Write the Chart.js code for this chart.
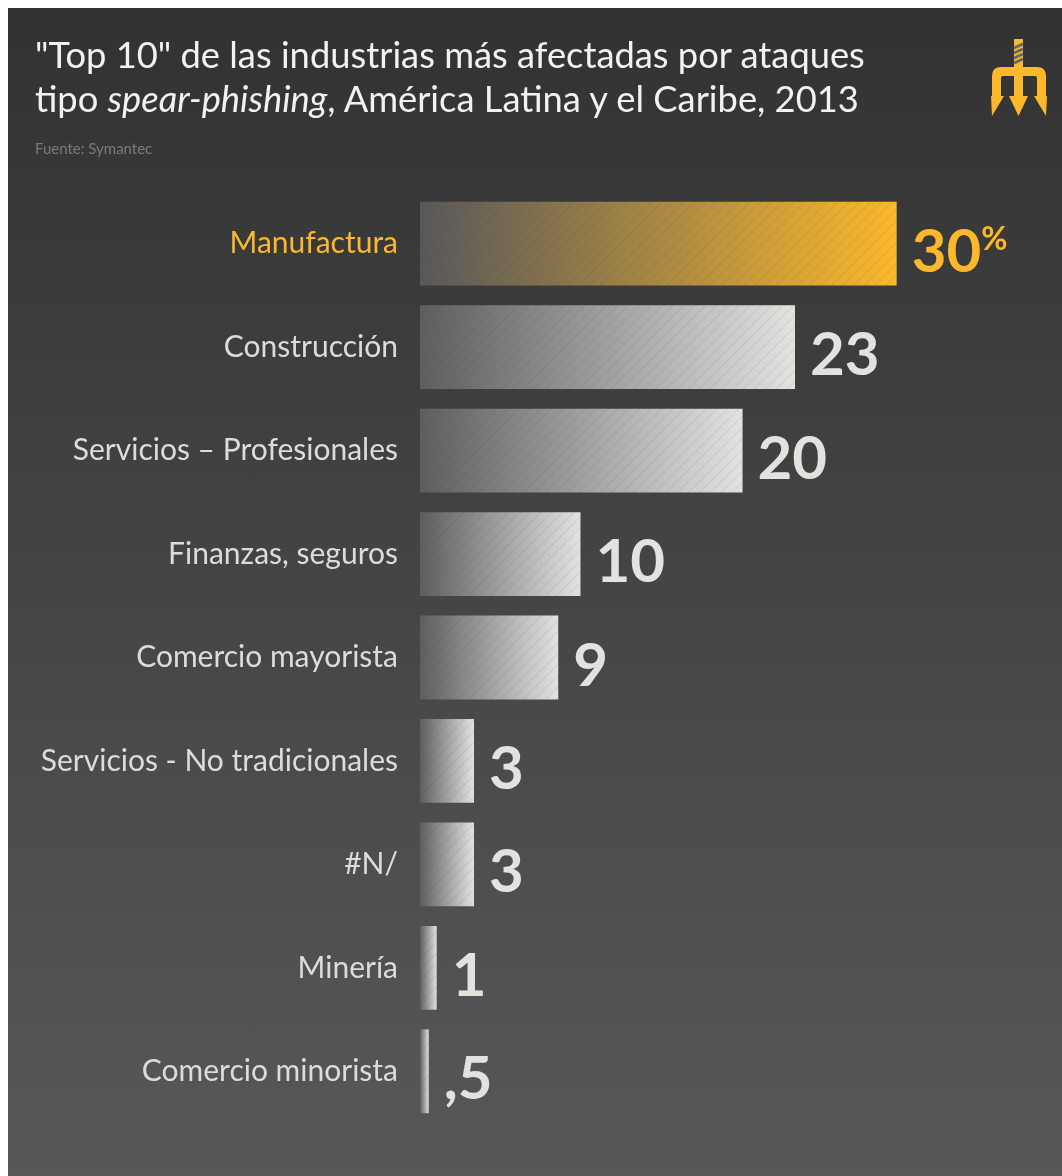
<!DOCTYPE html>
<html>
<head>
<meta charset="utf-8">
<script src="https://cdn.jsdelivr.net/npm/chart.js@4.4.1/dist/chart.umd.min.js"></script>
<style>
    body { margin: 0; background: #fff; }
    #panel {
        position: absolute; left: 8px; top: 8px; width: 1054px; height: 1168px;
        background: linear-gradient(to bottom, #333232 0%, #58585a 100%);
        overflow: hidden;
    }
    #chart-wrap { position: absolute; left: 0; top: 0; width: 1054px; height: 1168px; }
    .title {
        position: absolute; left: 27px; top: 24px;
        font-family: Lato, sans-serif; font-size: 36.3px; line-height: 44px; color: #f2f2f2;
    }
    .source {
        position: absolute; left: 27px; top: 131px;
        font-family: Lato, sans-serif; font-size: 15px; color: #7a7a7a;
    }
    #logo { position: absolute; left: 978px; top: 28px; }
</style>
</head>
<body>
<div id="panel">
    <div id="chart-wrap"><canvas id="industry-chart"></canvas></div>
    <div class="title">"Top 10" de las industrias más afectadas por ataques<br>tipo <i>spear-phishing</i>, América Latina y el Caribe, 2013</div>
    <div class="source">Fuente: Symantec</div>
    <svg id="logo" width="64" height="92" viewBox="978 28 64 92">
        <rect x="1006" y="31" width="9" height="60" fill="#fbb82b"/>
        <g stroke="#666" stroke-width="3">
            <line x1="1006" y1="40" x2="1015" y2="36"/>
            <line x1="1006" y1="45" x2="1015" y2="41"/>
            <line x1="1006" y1="50" x2="1015" y2="46"/>
            <line x1="1006" y1="55" x2="1015" y2="51"/>
        </g>
        <path d="M984 90 V68 Q984 59 993 59 H1029 Q1038 59 1038 68 V90 H1029 V70 Q1029 68 1027 68 H995 Q993 68 993 70 V90 Z" fill="#fbb82b"/>
        <path d="M983 88 H996 L984 108 Z" fill="#fbb82b"/>
        <path d="M1001 88 H1020 L1010.5 108 Z" fill="#fbb82b"/>
        <path d="M1026 88 H1039 L1038 108 Z" fill="#fbb82b"/>
    </svg>
</div>

<script>
// Data
const categories = ['Manufactura', 'Construcción', 'Servicios – Profesionales', 'Finanzas, seguros',
    'Comercio mayorista', 'Servicios - No tradicionales', '#N/', 'Minería', 'Comercio minorista'];
const shares = [30, 23.6, 20.3, 10.1, 8.7, 3.4, 3.4, 1.05, 0.55];
const valueLabels = ['30', '23', '20', '10', '9', '3', '3', '1', ',5'];

const GOLD = '#fbb82b';
const LIGHT = '#e2e2df';

function barFill(context) {
    const chart = context.chart;
    const { ctx, chartArea, scales } = chart;
    if (!chartArea) return LIGHT;
    const x0 = scales.x.getPixelForValue(0);
    const x1 = scales.x.getPixelForValue(context.raw);
    const g = ctx.createLinearGradient(x0, 0, x1, 0);
    if (context.dataIndex === 0) {
        g.addColorStop(0, '#58585a');
        g.addColorStop(1, GOLD);
    } else {
        g.addColorStop(0, '#5e5e60');
        g.addColorStop(1, LIGHT);
    }
    return g;
}

// hatch lines + value labels on top of the bars
const barDecor = {
    id: 'barDecor',
    afterDatasetsDraw(chart) {
        const ctx = chart.ctx;
        const meta = chart.getDatasetMeta(0);
        meta.data.forEach(function(bar, i) {
            const left = bar.base, right = bar.x;
            const top = bar.y - bar.height / 2, bottom = bar.y + bar.height / 2;

            ctx.save();
            ctx.beginPath();
            ctx.rect(left, top, right - left, bottom - top);
            ctx.clip();
            ctx.strokeStyle = 'rgba(60,60,60,0.13)';
            ctx.lineWidth = 1;
            const h = bottom - top;
            for (let x = left - h; x < right + h; x += 11) {
                ctx.beginPath();
                ctx.moveTo(x, bottom);
                ctx.lineTo(x + h, top);
                ctx.stroke();
            }
            ctx.restore();

            ctx.save();
            ctx.fillStyle = i === 0 ? GOLD : LIGHT;
            ctx.font = 'bold 60px Lato, sans-serif';
            ctx.textAlign = 'left';
            ctx.textBaseline = 'alphabetic';
            const tx = right + 15;
            const ty = bar.y + 28;
            ctx.fillText(valueLabels[i], tx, ty);
            if (i === 0) {
                const w = ctx.measureText(valueLabels[i]).width;
                ctx.font = 'bold 32px Lato, sans-serif';
                ctx.fillText('%', tx + w, ty - 22);
            }
            ctx.restore();
        });
    }
};

const chartCtx = document.getElementById('industry-chart').getContext('2d');
new Chart(chartCtx, {
    type: 'bar',
    data: {
        labels: categories,
        datasets: [{
            data: shares,
            backgroundColor: barFill,
            borderWidth: 0,
            barPercentage: 0.81,
            categoryPercentage: 1
        }]
    },
    options: {
        indexAxis: 'y',
        responsive: true,
        maintainAspectRatio: false,
        animation: false,
        layout: { padding: { top: 184, bottom: 53, left: 0, right: 70 } },
        plugins: { legend: { display: false }, tooltip: { enabled: false } },
        scales: {
            x: { display: false, min: 0, max: 36 },
            y: {
                grid: { display: false },
                border: { display: false },
                afterFit: function(scale) { scale.width = 412; },
                ticks: {
                    padding: 14,
                    font: { family: 'Lato', size: 30 },
                    color: function(c) { return c.index === 0 ? GOLD : '#dcdcda'; }
                }
            }
        }
    },
    plugins: [barDecor]
});
</script>
</body>
</html>
